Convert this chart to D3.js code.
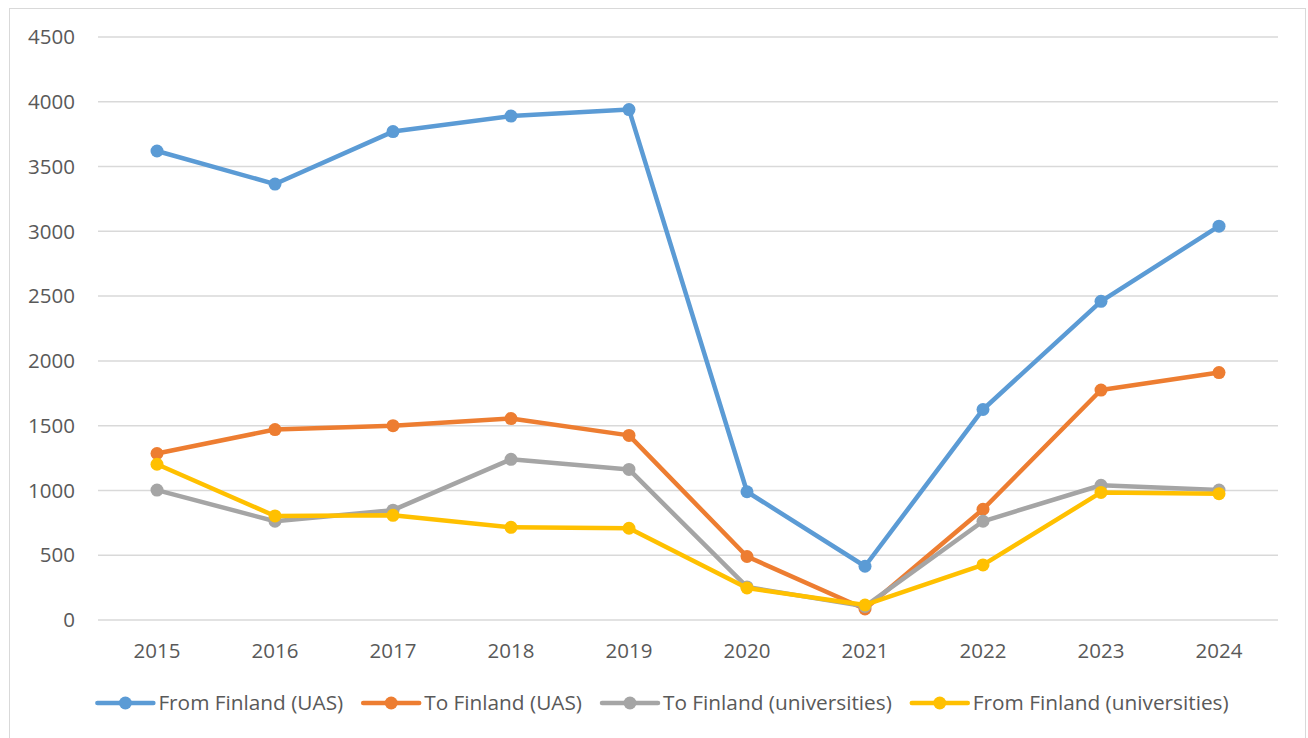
<!DOCTYPE html>
<html>
<head>
<meta charset="utf-8">
<script src="https://cdn.jsdelivr.net/npm/d3@7"></script>
<style>
  body { margin: 0; background: #fff; }
  svg text { font-family: "Open Sans", "Noto Sans", sans-serif; fill: #595959; }
</style>
</head>
<body>
<div id="chart"></div>
<script>
// values
var years = [2015, 2016, 2017, 2018, 2019, 2020, 2021, 2022, 2023, 2024]
var fromFinlandUAS = [3620, 3365, 3770, 3890, 3940, 990, 415, 1625, 2460, 3040]
var toFinlandUAS = [1285, 1470, 1500, 1555, 1425, 490, 85, 855, 1775, 1910]
var toFinlandUni = [1003, 762, 848, 1240, 1162, 255, 105, 762, 1040, 1003]
var fromFinlandUni = [1202, 803, 808, 715, 708, 247, 116, 425, 985, 975]
var seriesNames = ['From Finland (UAS)', 'To Finland (UAS)', 'To Finland (universities)', 'From Finland (universities)']
var seriesColors = ['#5b9bd5', '#ed7d31', '#a5a5a5', '#ffc000']
var yTicks = [0, 500, 1000, 1500, 2000, 2500, 3000, 3500, 4000, 4500]

var W = 1308, H = 738
var margin = {left: 98, right: 30, top: 37, bottom: 118}

var svg = d3.select('#chart').append('svg').attr('width', W).attr('height', H)

// chart frame
svg.append('rect')
  .attr('x', 9.5).attr('y', 8.5).attr('width', 1296).attr('height', 740)
  .attr('fill', '#fff').attr('stroke', '#d9d9d9').attr('stroke-width', 1)

var x = d3.scaleBand().domain(years).range([margin.left, W - margin.right])
var y = d3.scaleLinear().domain([0, 4500]).range([H - margin.bottom, margin.top])

// gridlines
svg.append('g').selectAll('line').data(yTicks).join('line')
  .attr('x1', margin.left).attr('x2', W - margin.right)
  .attr('y1', function(d){ return y(d) }).attr('y2', function(d){ return y(d) })
  .attr('stroke', '#d9d9d9').attr('stroke-width', 1.5)

// y labels
svg.append('g').selectAll('text').data(yTicks).join('text')
  .attr('x', 75).attr('y', function(d){ return y(d) })
  .attr('dy', '0.35em').attr('text-anchor', 'end')
  .style('font-size', '20.5px')
  .text(function(d){ return d })

// x labels
svg.append('g').selectAll('text').data(years).join('text')
  .attr('x', function(d){ return x(d) + x.bandwidth() / 2 }).attr('y', 651)
  .attr('dy', '0.35em').attr('text-anchor', 'middle')
  .style('font-size', '20.5px')
  .text(function(d){ return d })

var allSeries = [fromFinlandUAS, toFinlandUAS, toFinlandUni, fromFinlandUni]
var line = d3.line()
  .x(function(d, i){ return x(years[i]) + x.bandwidth() / 2 })
  .y(function(d){ return y(d) })

allSeries.forEach(function(vals, s){
  var g = svg.append('g')
  g.append('path').attr('d', line(vals))
    .attr('fill', 'none').attr('stroke', seriesColors[s])
    .attr('stroke-width', 4.5).attr('stroke-linejoin', 'round').attr('stroke-linecap', 'round')
  g.selectAll('circle').data(vals).join('circle')
    .attr('cx', function(d, i){ return x(years[i]) + x.bandwidth() / 2 })
    .attr('cy', function(d){ return y(d) })
    .attr('r', 6.5).attr('fill', seriesColors[s])
})

// legend
var legend = svg.append('g')
var lx = 0
seriesNames.forEach(function(name, s){
  var it = legend.append('g').attr('transform', 'translate(' + lx + ',0)')
  it.append('line').attr('x1', 0).attr('x2', 56).attr('y1', 0).attr('y2', 0)
    .attr('stroke', seriesColors[s]).attr('stroke-width', 4.5).attr('stroke-linecap', 'round')
  it.append('circle').attr('cx', 28).attr('cy', 0).attr('r', 6.5).attr('fill', seriesColors[s])
  var t = it.append('text').attr('x', 61).attr('y', 0).attr('dy', '0.35em')
    .style('font-size', '20.8px').text(name)
  lx += 61 + t.node().getComputedTextLength() + 20
})
var legendW = lx - 20
legend.attr('transform', 'translate(' + (663 - legendW / 2) + ',703)')
</script>
</body>
</html>
